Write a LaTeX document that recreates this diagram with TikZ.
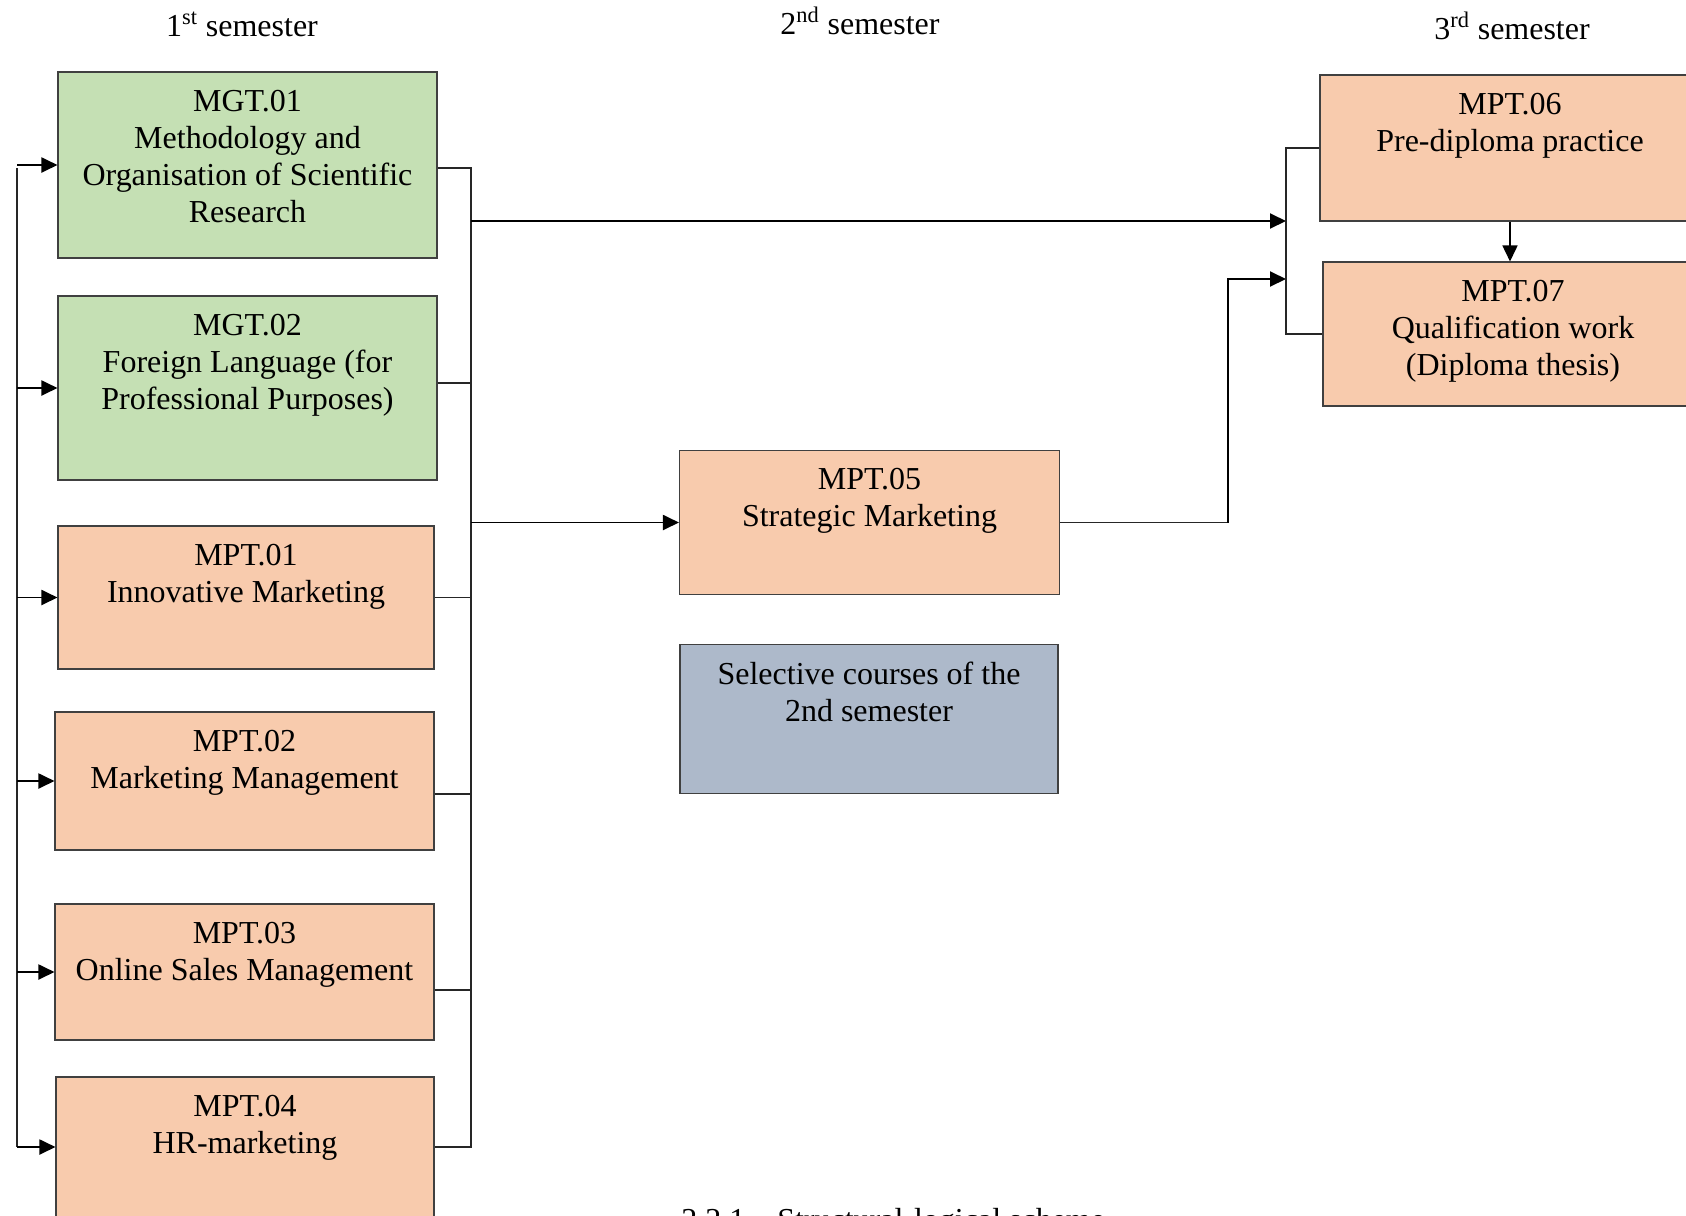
\documentclass[tikz,border=0pt]{standalone}
\usepackage{fontspec}
\setmainfont{Liberation Serif}
\usetikzlibrary{positioning,arrows.meta}
\definecolor{mgtgreen}{RGB}{197,224,180}
\definecolor{mptorange}{RGB}{248,203,173}
\definecolor{selgrey}{RGB}{173,185,202}

\begin{document}
\begin{tikzpicture}[x=0.2mm, y=-0.2mm,
    course/.style={draw=black!75, line width=0.6pt, rectangle, inner sep=0pt},
    title/.style={align=center, inner sep=0pt, font=\fontsize{18.2pt}{21.2pt}\selectfont},
    arr/.style={-{Triangle[length=3.2mm,width=3mm]}, line width=1.1pt},
    bus/.style={line width=0.6pt, black!85}]
    \useasboundingbox (0,0) rectangle (1686,1215);

    % Semester headings
    \node[title, anchor=base] (sem1) at (242,36) {1\textsuperscript{st} semester};
    \node[title, anchor=base] (sem2) at (860,34) {2\textsuperscript{nd} semester};
    \node[title, anchor=base] (sem3) at (1512,39) {3\textsuperscript{rd} semester};

    % 1st semester
    \node[course, fill=mgtgreen, minimum width=75.8mm, minimum height=37.2mm] (mgt1) at (247.5,165) {};
    \node[course, fill=mgtgreen, minimum width=75.8mm, minimum height=36.8mm] (mgt2) at (247.5,388) {};
    \node[course, fill=mptorange, minimum width=75.2mm, minimum height=28.6mm] (mpt1) at (246,597.5) {};
    \node[course, fill=mptorange, minimum width=75.8mm, minimum height=27.6mm] (mpt2) at (244.5,781) {};
    \node[course, fill=mptorange, minimum width=75.8mm, minimum height=27.2mm] (mpt3) at (244.5,972) {};
    \node[course, fill=mptorange, minimum width=75.6mm, minimum height=28mm] (mpt4) at (245,1147) {};

    \node[title, below=3.6mm of mgt1.north] (mgt1t) {MGT.01\\Methodology and\\Organisation of Scientific\\Research};
    \node[title, below=3.6mm of mgt2.north] (mgt2t) {MGT.02\\Foreign Language (for\\Professional Purposes)};
    \node[title, below=3.6mm of mpt1.north] (mpt1t) {MPT.01\\Innovative Marketing};
    \node[title, below=3.6mm of mpt2.north] (mpt2t) {MPT.02\\Marketing Management};
    \node[title, below=3.6mm of mpt3.north] (mpt3t) {MPT.03\\Online Sales Management};
    \node[title, below=3.6mm of mpt4.north] (mpt4t) {MPT.04\\HR-marketing};

    % 2nd semester
    \node[course, fill=mptorange, minimum width=76mm, minimum height=28.8mm] (mpt5) at (869.5,522.5) {};
    \node[course, fill=selgrey, minimum width=75.6mm, minimum height=29.7mm] (sel) at (869,719) {};
    \node[title, below=3.6mm of mpt5.north] (mpt5t) {MPT.05\\Strategic Marketing};
    \node[title, below=3.4mm of sel.north] (selt) {Selective courses of the\\2nd semester};

    % 3rd semester
    \node[course, fill=mptorange, minimum width=76mm, minimum height=29.2mm] (mpt6) at (1510,148) {};
    \node[course, fill=mptorange, minimum width=76mm, minimum height=28.8mm] (mpt7) at (1513,334) {};
    \node[title, below=3.6mm of mpt6.north] (mpt6t) {MPT.06\\Pre-diploma practice};
    \node[title, below=3.6mm of mpt7.north] (mpt7t) {MPT.07\\Qualification work\\(Diploma thesis)};

    % Caption (cut by the page edge)
    \node[title, anchor=base west] (cap) at (681,1230) {2.2.1 – Structural-logical scheme};

    % Left bus
    \coordinate (lbtop) at (17,168);
    \coordinate (lbbot) at (17,1147);
    \draw[bus] (lbtop) -- (lbbot);
    \foreach \c in {mgt1,mgt2,mpt1,mpt2,mpt3,mpt4}
      \draw[arr] (lbtop |- \c.west) -- (\c.west);

    % Right bus
    \coordinate (rbtop) at (471,168);
    \coordinate (rbbot) at (471,1147);
    \draw[bus] (mgt1.east |- rbtop) -- (rbtop) -- (rbbot) -- (mpt4.east |- rbbot);
    \draw[bus] ([yshift=1mm]mgt2.east) coordinate (e2) -- (e2 -| rbtop);
    \draw[bus] (mpt1.east) -- (mpt1.east -| rbtop);
    \draw[bus] ([yshift=-2.6mm]mpt2.east) coordinate (e4) -- (e4 -| rbtop);
    \draw[bus] ([yshift=-3.6mm]mpt3.east) coordinate (e5) -- (e5 -| rbtop);

    % To the 2nd and 3rd semesters
    \coordinate (jA) at (471,221);
    \coordinate (brk) at (1286,148);
    \coordinate (kink) at (1228,279);
    \draw[arr] (jA) -- (jA -| brk);
    \draw[arr] (rbtop |- mpt5.west) -- (mpt5.west);
    \draw[bus] (mpt5.east) -- (mpt5.east -| kink);
    \draw[arr] (mpt5.east -| kink) -- (kink) -- (kink -| brk);
    \draw[bus] (mpt6.west) -- (brk) |- (mpt7.west);
    \draw[arr, line width=0.9pt] (mpt6.south) -- (mpt6.south |- mpt7.north);
\end{tikzpicture}
\end{document}
